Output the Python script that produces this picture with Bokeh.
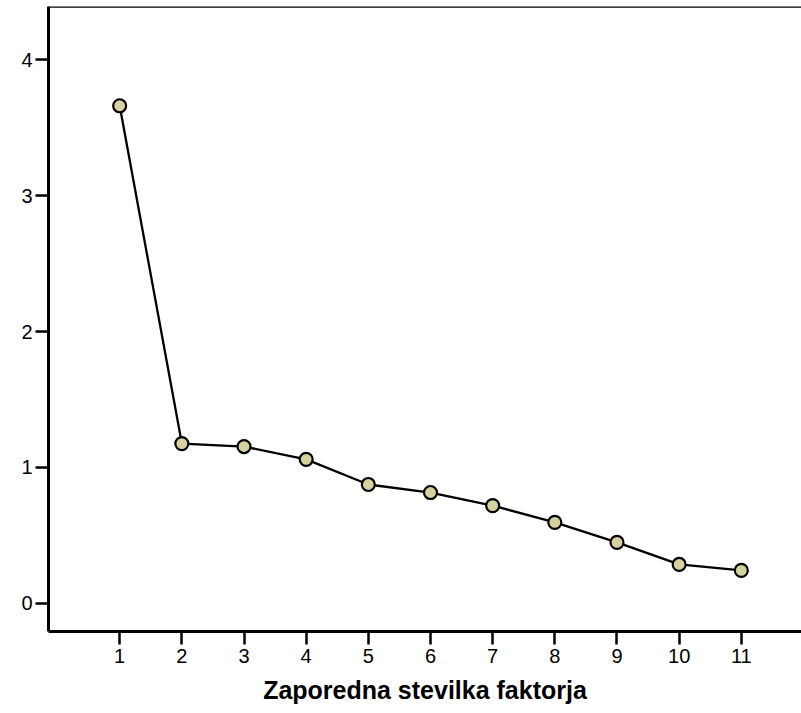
from bokeh.plotting import figure
from bokeh.models import Range1d, FixedTicker, Span, Label, ColumnDataSource
from bokeh.embed import file_html
from bokeh.resources import INLINE

factors = [1, 2, 3, 4, 5, 6, 7, 8, 9, 10, 11]
eigenvalues = [3.66, 1.176, 1.154, 1.06, 0.875, 0.816, 0.72, 0.596, 0.449, 0.287, 0.243]
y_ticks = [0, 1, 2, 3, 4]
x_title = "Zaporedna stevilka faktorja"
y_title = "Lastna vrednost"

src = ColumnDataSource(data=dict(x=factors, y=eigenvalues))

p = figure(width=801, height=713, output_backend="svg", toolbar_location=None,
           x_range=Range1d(-0.145, 11.968), y_range=Range1d(-0.206, 4.39),
           min_border_left=48, min_border_right=0, min_border_top=6, min_border_bottom=82)
p.outline_line_color = None
p.grid.visible = False
p.background_fill_color = "white"
p.border_fill_color = "white"

p.line("x", "y", source=src, line_color="black", line_width=2.3)
p.scatter("x", "y", source=src, size=13, fill_color="#d6d29f", line_color="black", line_width=2.2)

for ax in (p.xaxis[0], p.yaxis[0]):
    ax.axis_line_width = 3
    ax.axis_line_color = "black"
    ax.major_tick_line_width = 2.5
    ax.major_tick_line_color = "black"
    ax.major_tick_in = 0
    ax.minor_tick_line_color = None
    ax.major_label_text_font = "Liberation Sans"
    ax.major_label_text_font_size = "20px"
    ax.major_label_text_color = "black"

p.xaxis.ticker = FixedTicker(ticks=factors)
p.yaxis.ticker = FixedTicker(ticks=y_ticks)
p.xaxis.major_tick_out = 13
p.yaxis.major_tick_out = 13
p.xaxis.major_label_standoff = 4
p.yaxis.major_label_standoff = 3
p.xaxis.axis_label = x_title
p.xaxis.axis_label_text_font = "Liberation Sans"
p.xaxis.axis_label_text_font_style = "bold"
p.xaxis.axis_label_text_font_size = "25px"
p.xaxis.axis_label_text_color = "black"
p.xaxis.axis_label_standoff = 10

p.add_layout(Span(location=4.39, dimension="width", line_color="black", line_width=2.5))

p.add_layout(Label(x=-0.758, y=1.28, text=y_title, text_font_size="3px",
                   text_font="Liberation Sans", text_baseline="middle", text_color="#333333"))

open("out.html", "w").write(file_html(p, INLINE))
